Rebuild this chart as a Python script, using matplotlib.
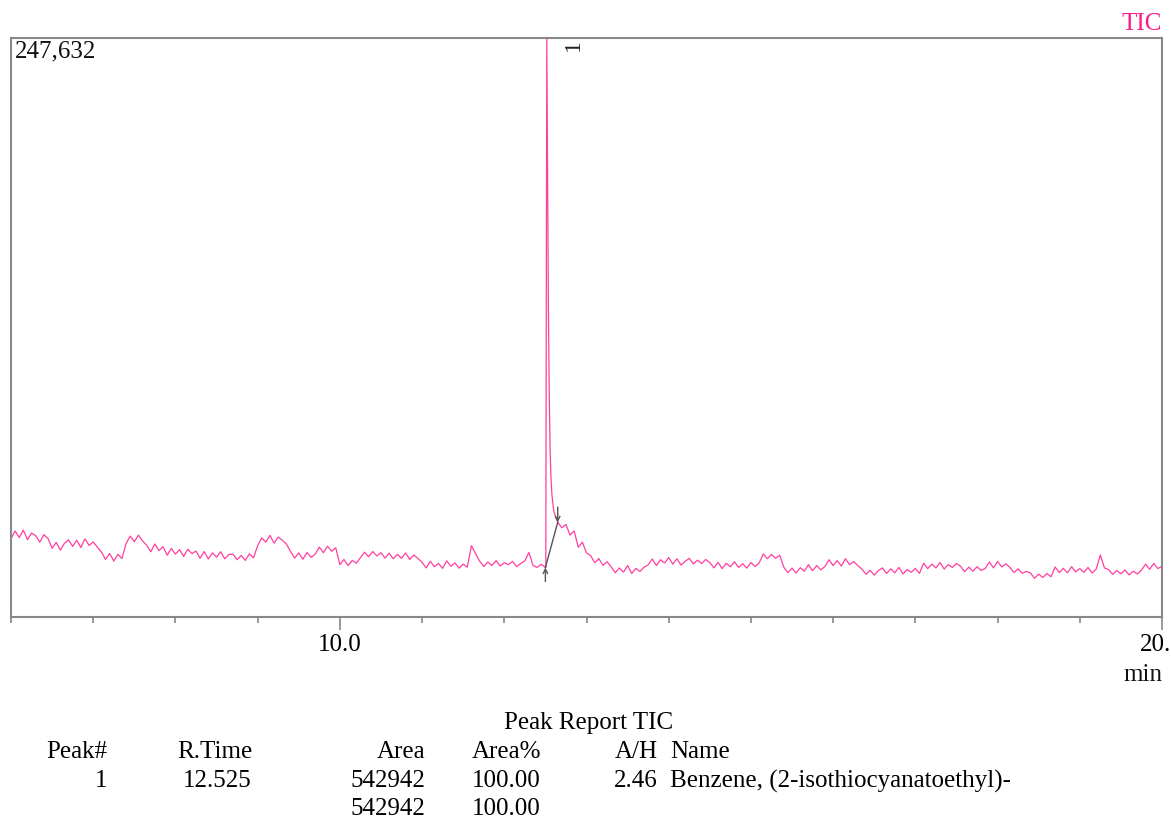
import numpy as np
import matplotlib
matplotlib.use("Agg")
import matplotlib.pyplot as plt
from matplotlib.ticker import FixedLocator, MultipleLocator

plt.rcParams['font.family'] = ['Liberation Serif', 'DejaVu Serif']

# Tracciato TIC (intensita' in migliaia di conteggi)
t_start, t_end = 6.0, 20.0
y_max = 247632

# prima del picco: 6.00 -> 12.45 min, passo 0.05
pre_vals = [33.5, 36.8, 34.0, 37.2, 33.1, 35.9,
            34.8, 32.0, 35.2, 33.6,
            29.4, 31.9, 28.6, 31.5,
            33.0, 30.2, 32.8, 29.7, 33.4, 30.6, 32.1, 29.9,
            27.8, 24.6, 27.2, 23.9, 26.8, 25.0,
            31.4, 34.6, 32.2, 35.0, 32.5,
            30.7, 27.9, 31.2, 28.4, 30.1,
            26.4, 29.3, 26.9, 28.8, 25.9, 29.0, 27.1, 28.2,
            25.1, 28.0, 24.8, 27.4, 25.6, 27.9, 24.9, 26.7,
            26.9, 24.5, 26.3, 24.2, 27.0, 25.3,
            30.5, 33.8, 32.0, 34.9, 31.6, 34.2, 32.8, 31.2,
            28.0, 25.2, 27.4, 24.7, 27.6, 25.5, 26.9,
            29.9, 27.5, 30.3, 28.1, 29.6,
            22.4, 24.6, 22.0, 24.2, 23.0,
            25.4, 27.7, 25.8, 28.0, 26.1, 27.5, 25.2,
            27.3, 24.9, 26.8, 25.1, 27.4, 24.6, 26.5, 25.0,
            23.4, 21.0, 23.8, 21.5, 22.9, 20.8, 24.0, 21.7, 23.1, 20.9, 22.6, 21.3,
            30.5, 27.2,
            23.9, 21.6, 23.5, 22.0, 24.1, 21.8, 23.2, 22.4, 23.8, 21.5, 22.9, 24.0,
            27.6, 22.0, 21.2, 22.5]

# picco a 12.525 min
peak_times = [12.48, 12.505, 12.517, 12.527, 12.537, 12.547, 12.557, 12.567,
              12.58, 12.60, 12.62]
peak_vals = [21.8, 21.0, 247.632, 190.0, 130.0, 95.0, 72.0, 60.0,
             52.0, 46.0, 43.0]

# dopo il picco: 12.65 -> 20.00 min, passo 0.05
post_vals = [40.5, 38.2, 39.6, 35.0, 36.8,
             29.8, 32.0, 27.4,
             26.3, 23.2, 25.0, 22.1, 23.6,
             21.5, 18.9, 21.0, 19.2, 22.0, 18.6, 20.8, 19.5, 21.3,
             22.3, 24.8, 22.0, 24.5, 23.1, 25.4, 22.6, 24.9, 22.2, 23.8, 25.1, 22.7, 24.3, 22.9, 24.6, 23.3,
             21.0, 23.4, 20.7, 23.0, 21.5, 23.6, 21.2, 22.8, 20.9, 23.3, 21.6, 23.1,
             27.0, 24.9, 26.8, 25.1, 26.4,
             21.3, 19.0, 20.9, 18.8, 21.1, 19.6,
             22.4, 19.8, 22.0, 20.2, 21.6,
             24.5, 22.0, 24.1, 21.8, 24.9, 22.4, 23.7, 22.0,
             20.5, 18.3, 20.0, 17.9, 19.8,
             21.0, 18.6, 20.6, 18.9, 21.2, 18.4, 20.3, 19.1, 20.8, 18.7,
             23.0, 20.7, 22.6, 21.0, 23.3, 20.5, 22.4, 21.2, 22.9,
             21.7, 19.4, 21.3, 19.6, 21.5, 19.9, 20.8,
             23.5, 21.0, 23.8, 21.4, 22.7,
             21.2, 19.0, 20.6, 18.7, 19.5,
             18.8, 16.6, 18.3, 16.9, 18.6, 17.2,
             21.4, 19.0, 20.8, 18.9, 21.5, 19.3, 20.7, 19.1, 21.2, 18.8, 20.5,
             26.5, 21.0,
             20.3, 18.2, 19.9, 18.5, 20.1, 18.0, 19.6, 18.4, 20.0,
             22.6, 20.4, 22.9, 20.7, 21.8]

# integrazione del picco (linea di base)
bl_start, bl_end = 12.50, 12.65

# tabella
report_title = 'Peak Report TIC'
col_headers = ['Peak#', 'R.Time', 'Area', 'Area%', 'A/H', 'Name']
row_peak = ['1', '12.525', '542942', '100.00', '2.46', 'Benzene, (2-isothiocyanatoethyl)-']
row_total = ['', '', '542942', '100.00', '', '']

pre_t = np.linspace(6.0, 12.45, len(pre_vals))
post_t = np.linspace(12.65, 20.0, len(post_vals))
t = np.concatenate([pre_t, peak_times, post_t])
y = np.concatenate([pre_vals, peak_vals, post_vals]) * 1000

pink = '#ff3fa0'
frame = '#888888'

fig = plt.figure(figsize=(11.71, 8.21), dpi=100)
ax = fig.add_axes([11 / 1171, 1 - 617 / 821, 1151 / 1171, 579 / 821])

ax.plot(t, y, color=pink, lw=0.9)

# linea di base dell'integrazione
y0 = np.interp(bl_start, t, y)
y1 = np.interp(bl_end, t, y)
ax.plot([bl_start, bl_end], [y0, y1], color='#555555', lw=1.0)
ax.annotate('', xy=(bl_start, y0), xytext=(bl_start, y0 - 6000),
            arrowprops=dict(arrowstyle='->', color='#555555', lw=1.0,
                            shrinkA=0, shrinkB=0, mutation_scale=8))
ax.annotate('', xy=(bl_end, y1), xytext=(bl_end, y1 + 6500),
            arrowprops=dict(arrowstyle='->', color='#555555', lw=1.0,
                            shrinkA=0, shrinkB=0, mutation_scale=8))

# etichetta del picco
ax.annotate('1', xy=(float(row_peak[1]), 1.0), xycoords=('data', 'axes fraction'),
            xytext=(11, -1), textcoords='offset points', rotation=90,
            ha='left', va='top', fontsize=17, color='#222222')

ax.set_xlim(t_start, t_end)
ax.set_ylim(0, y_max)

for s in ax.spines.values():
    s.set_color(frame)
    s.set_linewidth(1.5)

ax.xaxis.set_major_locator(FixedLocator([10, 20]))
ax.xaxis.set_minor_locator(MultipleLocator(1))
ax.set_xticklabels(['10.0', '20.0'])
ax.tick_params(axis='x', which='major', length=9, width=1.2, color=frame,
               labelsize=18, pad=3)
ax.tick_params(axis='x', which='minor', length=4.5, width=1.2, color=frame)
ax.set_yticks([])

ax.text(0.003, 0.995, f'{y_max:,}', transform=ax.transAxes, ha='left', va='top',
        fontsize=18, color='#111111')

fig.text(1162 / 1171, 1 - 24 / 821, 'TIC', ha='right', va='center', fontsize=18, color='#ff1a8c')
fig.text(1162 / 1171, 1 - 675 / 821, 'min', ha='right', va='center', fontsize=18, color='#111111')

# tabella del report
fig.text(589 / 1171, 1 - 723 / 821, report_title, ha='center', va='center', fontsize=18)
col_x = [107, 252, 425, 541, 658, 670]
col_ha = ['right', 'right', 'right', 'right', 'right', 'left']
for row, ypix in [(col_headers, 752), (row_peak, 781), (row_total, 809)]:
    for txt, xp, ha in zip(row, col_x, col_ha):
        if txt:
            fig.text(xp / 1171, 1 - ypix / 821, txt, ha=ha, va='center', fontsize=18)

fig.savefig('out.png', dpi=100)
